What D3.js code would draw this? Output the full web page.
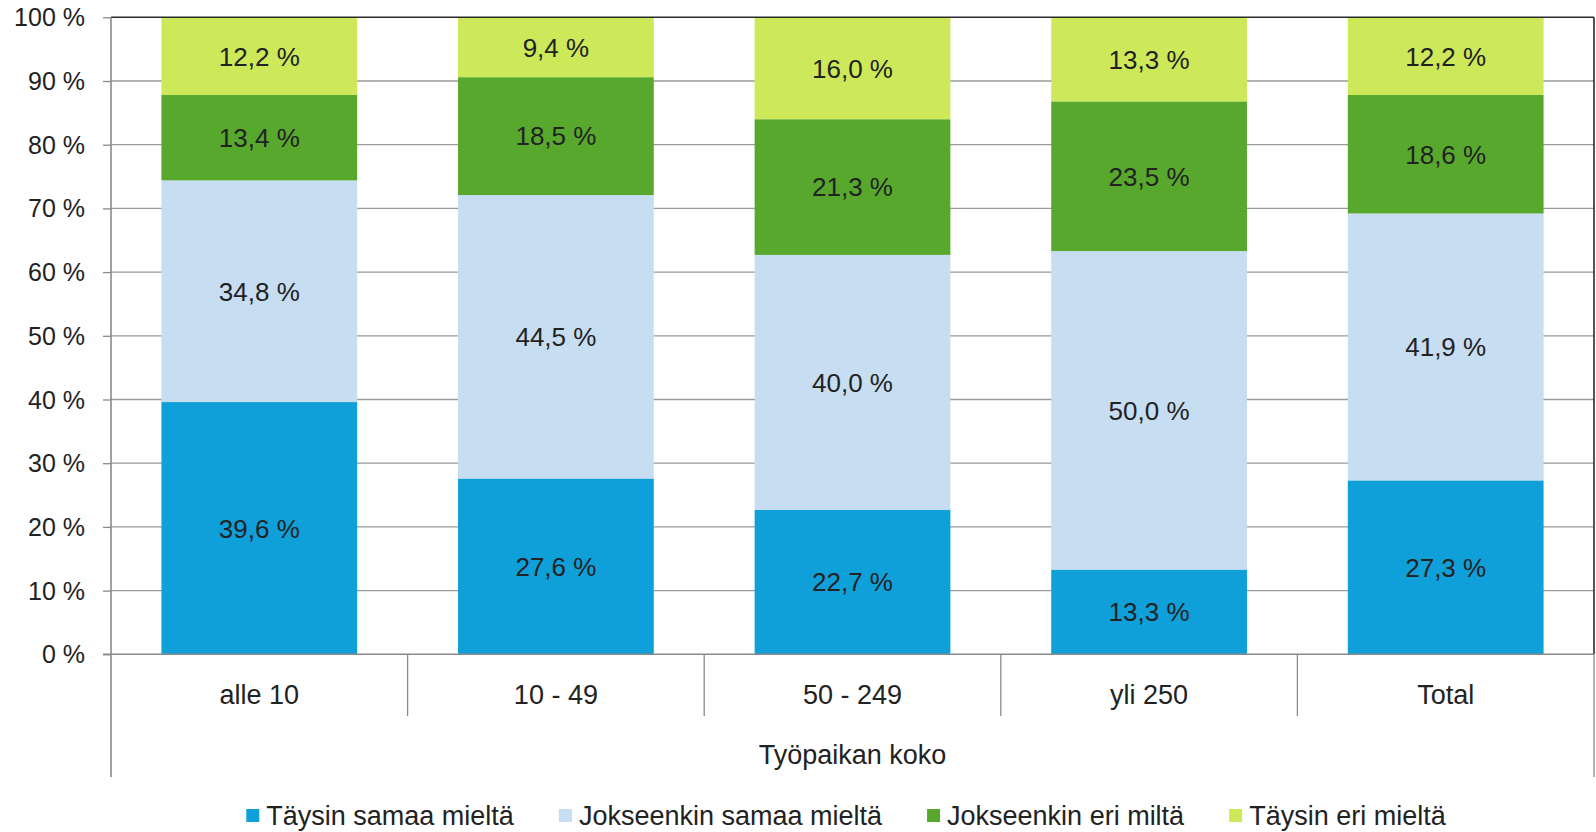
<!DOCTYPE html>
<html><head><meta charset="utf-8">
<script src="https://cdn.jsdelivr.net/npm/d3@7"></script>
<style>
html,body{margin:0;padding:0;background:#fff;}
svg{display:block;font-family:"Liberation Sans",Arial,sans-serif;}
</style></head>
<body><svg id="c" width="1596" height="832"></svg>
<script>
const categories = ["alle 10", "10 - 49", "50 - 249", "yli 250", "Total"];
const seriesNames = ["Täysin samaa mieltä", "Jokseenkin samaa mieltä", "Jokseenkin eri miltä", "Täysin eri mieltä"];
const taysinSamaa = [39.6, 27.6, 22.7, 13.3, 27.3];
const jokseenkinSamaa = [34.8, 44.5, 40.0, 50.0, 41.9];
const jokseenkinEri = [13.4, 18.5, 21.3, 23.5, 18.6];
const taysinEri = [12.2, 9.4, 16.0, 13.3, 12.2];
const yTicks = [0, 10, 20, 30, 40, 50, 60, 70, 80, 90, 100];
const colors = ["#0fa0da", "#c6ddf2", "#58a82e", "#cde95a"];
const xTitle = "Työpaikan koko";

const FS_TICK = 25, FS_LABEL = 26, FS_CAT = 27;
const series = [taysinSamaa, jokseenkinSamaa, jokseenkinEri, taysinEri];
const svg = d3.select("#c");
const L = 111, R = 1594, T = 17.3, B = 654.3;

const x = d3.scaleBand().domain(categories).range([L, R]).paddingInner(0.34).paddingOuter(0.17);
const y = d3.scaleLinear().domain([0, 100]).range([B, T]);

// gridlines
svg.append("g").selectAll("line").data(yTicks.filter(d => d > 0 && d < 100)).join("line")
  .attr("x1", L).attr("x2", R).attr("y1", d => y(d)).attr("y2", d => y(d))
  .attr("stroke", "#9a9a9a").attr("stroke-width", 1.3);

// stacked bars
const rows = categories.map((c, i) => { const o = {cat: c}; series.forEach((s, k) => o["s" + k] = s[i]); return o; });
const stack = d3.stack().keys(series.map((s, k) => "s" + k))(rows);
const fmt = v => v.toFixed(1).replace(".", ",") + " %";
stack.forEach((layer, k) => {
  const g = svg.append("g");
  g.selectAll("rect").data(layer).join("rect")
    .attr("x", d => x(d.data.cat)).attr("width", x.bandwidth())
    .attr("y", d => y(Math.min(100, d[1]))).attr("height", d => y(d[0]) - y(Math.min(100, d[1])))
    .attr("fill", colors[k]);
  g.selectAll("text").data(layer).join("text")
    .attr("x", d => x(d.data.cat) + x.bandwidth() / 2)
    .attr("y", d => (y(d[0]) + y(Math.min(100, d[1]))) / 2)
    .attr("dy", "0.36em").attr("text-anchor", "middle")
    .attr("font-size", FS_LABEL).attr("fill", "#222")
    .text(d => fmt(d[1] - d[0]));
});

// frame: top and right dark
svg.append("line").attr("x1", L).attr("x2", R).attr("y1", y(100)).attr("y2", y(100)).attr("stroke", "#2a2a2a").attr("stroke-width", 1.6);
svg.append("line").attr("x1", R).attr("x2", R).attr("y1", y(100)).attr("y2", B).attr("stroke", "#2a2a2a").attr("stroke-width", 1.6);

// y axis
const yAxis = d3.axisLeft(y).tickValues(yTicks).tickSize(8).tickPadding(18).tickFormat(d => d + " %");
const ya = svg.append("g").attr("transform", `translate(${L},0)`).call(yAxis);
ya.select(".domain").remove();
ya.selectAll(".tick line").attr("stroke", "#8a8a8a").attr("stroke-width", 1.3);
ya.selectAll(".tick text").attr("font-size", FS_TICK).attr("fill", "#222").attr("font-family", "Liberation Sans, Arial, sans-serif").attr("dy", "0.34em");
svg.append("line").attr("x1", L).attr("x2", L).attr("y1", T).attr("y2", 777).attr("stroke", "#8a8a8a").attr("stroke-width", 1.6);

// x axis baseline
svg.append("line").attr("x1", L - 8).attr("x2", R).attr("y1", B).attr("y2", B).attr("stroke", "#8a8a8a").attr("stroke-width", 1.6);
// category separators
const step = x.step();
const seps = categories.map((c, i) => x(c) - x.paddingInner() * step / 2).slice(1);
svg.append("g").selectAll("line").data(seps).join("line")
  .attr("x1", d => d).attr("x2", d => d).attr("y1", B).attr("y2", 716)
  .attr("stroke", "#8a8a8a").attr("stroke-width", 1.3);
svg.append("line").attr("x1", R).attr("x2", R).attr("y1", B).attr("y2", 777).attr("stroke", "#8a8a8a").attr("stroke-width", 1.3);

// category labels
svg.append("g").selectAll("text").data(categories).join("text")
  .attr("x", d => x(d) + x.bandwidth() / 2).attr("y", 694).attr("dy", "0.36em")
  .attr("text-anchor", "middle").attr("font-size", FS_CAT).attr("fill", "#222").text(d => d);
svg.append("text").attr("x", (L + R) / 2).attr("y", 754).attr("dy", "0.36em")
  .attr("text-anchor", "middle").attr("font-size", FS_CAT).attr("fill", "#222").text(xTitle);

// legend
const lg = svg.append("g");
const items = seriesNames.map((n, k) => {
  const g = lg.append("g");
  g.append("rect").attr("width", 13).attr("height", 13).attr("y", 809).attr("fill", colors[k]);
  const t = g.append("text").attr("x", 20).attr("y", 825).attr("font-size", FS_CAT).attr("fill", "#222").text(n);
  return {g, w: 20 + t.node().getComputedTextLength()};
});
const gap = 45;
const total = d3.sum(items, d => d.w) + gap * (items.length - 1);
let cx = 846 - total / 2;
items.forEach(it => { it.g.attr("transform", `translate(${cx},0)`); cx += it.w + gap; });
</script></body></html>
